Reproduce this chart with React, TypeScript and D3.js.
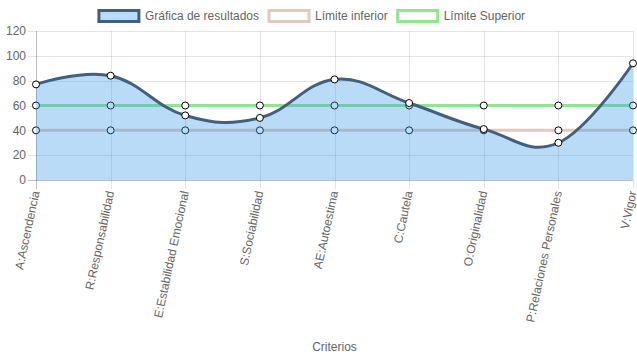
import React, { useEffect, useRef } from 'react';
import * as d3 from 'd3';

const criterios = [
  'A:Ascendencia',
  'R:Responsabilidad',
  'E:Estabilidad Emocional',
  'S:Sociabilidad',
  'AE:Autoestima',
  'C:Cautela',
  'O:Originalidad',
  'P:Relaciones Personales',
  'V:Vigor',
];
const resultados = [77, 84, 52, 50, 81, 62, 41, 30, 94];
const limiteInferior = [40, 40, 40, 40, 40, 40, 40, 40, 40];
const limiteSuperior = [60, 60, 60, 60, 60, 60, 60, 60, 60];
const yTicks = [0, 20, 40, 60, 80, 100, 120];

const W = 637;
const H = 359;
const font = 'Arial, "Liberation Sans", Helvetica, sans-serif';
const textColor = '#666';

export default function App() {
  const svgRef = useRef<SVGSVGElement>(null);

  useEffect(() => {
    if (!svgRef.current) return;
    const root = d3.select(svgRef.current);
    root.selectAll('*').remove();

    const area = { left: 36, right: 633, top: 31, bottom: 180 };

    const x = d3.scalePoint<string>()
      .domain(criterios)
      .range([area.left, area.right]);
    const y = d3.scaleLinear().domain([0, 120]).range([area.bottom, area.top]);

    // grid
    const grid = root.append('g');
    grid.selectAll('.hg')
      .data(yTicks)
      .join('line')
      .attr('x1', area.left - 8)
      .attr('x2', area.right)
      .attr('y1', d => Math.round(y(d)) + 0.5)
      .attr('y2', d => Math.round(y(d)) + 0.5)
      .attr('stroke', d => (d === 0 ? 'rgba(0,0,0,0.25)' : 'rgba(0,0,0,0.1)'));
    grid.selectAll('.vg')
      .data(criterios)
      .join('line')
      .attr('x1', d => Math.round(x(d) || 0) + 0.5)
      .attr('x2', d => Math.round(x(d) || 0) + 0.5)
      .attr('y1', area.top)
      .attr('y2', area.bottom + 9)
      .attr('stroke', (d, i) => (i === 0 ? 'rgba(0,0,0,0.25)' : 'rgba(0,0,0,0.1)'));

    // y labels
    root.append('g')
      .selectAll('text')
      .data(yTicks)
      .join('text')
      .attr('x', 26)
      .attr('y', d => y(d))
      .attr('dy', '0.35em')
      .attr('text-anchor', 'end')
      .style('font-family', font)
      .style('font-size', '12px')
      .style('fill', textColor)
      .text(d => d);

    // x labels rotated
    root.append('g')
      .selectAll('text')
      .data(criterios)
      .join('text')
      .attr('transform', d => `translate(${(x(d) || 0) - 0.5},${area.bottom + 11}) rotate(-78)`)
      .attr('text-anchor', 'end')
      .attr('dy', '0.35em')
      .style('font-family', font)
      .style('font-size', '12px')
      .style('fill', textColor)
      .text(d => d);

    // axis title
    root.append('text')
      .attr('x', (area.left + area.right) / 2)
      .attr('y', 351)
      .attr('text-anchor', 'middle')
      .style('font-family', font)
      .style('font-size', '12px')
      .style('fill', textColor)
      .text('Criterios');

    const curve = d3.curveCardinal.tension(-0.2);

    const drawPoints = (vals: number[]) => {
      root.append('g')
        .selectAll('circle')
        .data(vals)
        .join('circle')
        .attr('cx', (d, i) => x(criterios[i]) || 0)
        .attr('cy', d => y(d))
        .attr('r', 3.5)
        .attr('fill', '#fff')
        .attr('stroke', '#000')
        .attr('stroke-width', 1);
    };

    const flatLine = d3.line<number>()
      .x((d, i) => x(criterios[i]) || 0)
      .y(d => y(d));

    // Límite Superior (drawn first)
    root.append('path')
      .datum(limiteSuperior)
      .attr('fill', 'none')
      .attr('stroke', 'rgb(144,230,144)')
      .attr('stroke-width', 3)
      .attr('d', flatLine);
    drawPoints(limiteSuperior);

    // Límite inferior
    root.append('path')
      .datum(limiteInferior)
      .attr('fill', 'none')
      .attr('stroke', 'rgb(227,201,189)')
      .attr('stroke-width', 3)
      .attr('d', flatLine);
    drawPoints(limiteInferior);

    // resultados
    const areaGen = d3.area<number>()
      .x((d, i) => x(criterios[i]) || 0)
      .y0(y(0))
      .y1(d => y(d))
      .curve(curve);
    root.append('path')
      .datum(resultados)
      .attr('fill', 'rgba(54,152,235,0.35)')
      .attr('d', areaGen);
    root.append('path')
      .datum(resultados)
      .attr('fill', 'none')
      .attr('stroke', '#41607f')
      .attr('stroke-width', 3)
      .attr('d', d3.line<number>()
        .x((d, i) => x(criterios[i]) || 0)
        .y(d => y(d))
        .curve(curve));
    drawPoints(resultados);

    // legend
    const legendItems = [
      { label: 'Gráfica de resultados', fill: 'rgba(54,152,235,0.35)', stroke: '#41607f' },
      { label: 'Límite inferior', fill: '#fff', stroke: 'rgb(227,201,189)' },
      { label: 'Límite Superior', fill: '#fff', stroke: 'rgb(144,230,144)' },
    ];
    const legend = root.append('g');
    const widths: number[] = [];
    legendItems.forEach(it => {
      const t = legend.append('text')
        .style('font-family', font)
        .style('font-size', '12px')
        .text(it.label);
      widths.push((t.node() as SVGTextElement).getComputedTextLength());
      t.remove();
    });
    const itemW = widths.map(w => 40 + 6 + w);
    const total = d3.sum(itemW) + 10 * (itemW.length - 1);
    let cx = 312 - total / 2;
    legendItems.forEach((it, i) => {
      legend.append('rect')
        .attr('x', cx)
        .attr('y', 10.5)
        .attr('width', 40)
        .attr('height', 11)
        .attr('fill', it.fill)
        .attr('stroke', it.stroke)
        .attr('stroke-width', 3);
      legend.append('text')
        .attr('x', cx + 46)
        .attr('y', 16)
        .attr('dy', '0.35em')
        .style('font-family', font)
        .style('font-size', '12px')
        .style('fill', textColor)
        .text(it.label);
      cx += itemW[i] + 10;
    });
  }, []);

  return (
    <svg
      ref={svgRef}
      width={W}
      height={H}
      style={{ position: 'absolute', left: 0, top: 0, background: '#fff' }}
    />
  );
}
